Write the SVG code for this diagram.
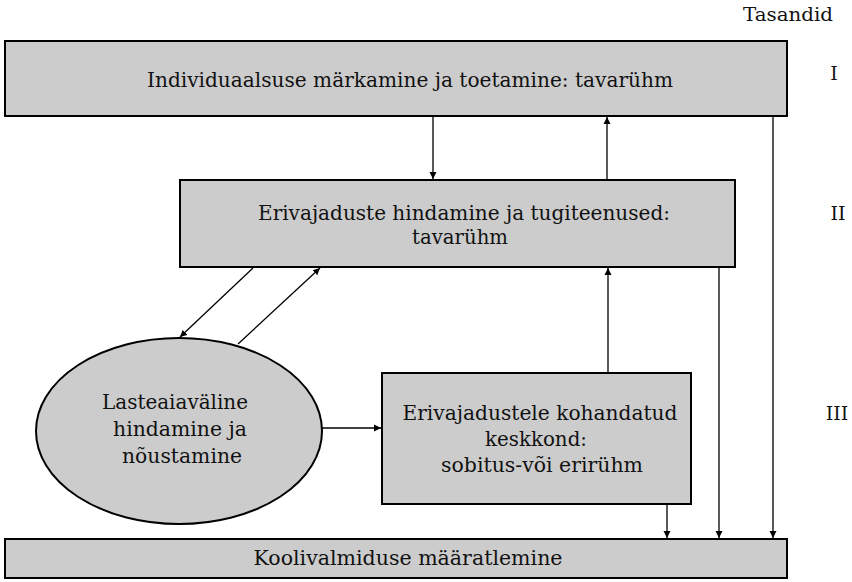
<svg xmlns="http://www.w3.org/2000/svg" width="852" height="582" viewBox="0 0 852 582">
  <defs>
    <marker id="arr" viewBox="0 0 10 10" refX="10" refY="5" markerWidth="7" markerHeight="8" markerUnits="userSpaceOnUse" orient="auto">
      <path d="M0,0 L10,5 L0,10 z" fill="#000"/>
    </marker>
    <style>
      .box { fill: #cccccc; stroke: #000; stroke-width: 2; }
      .lbl { font-family: "DejaVu Serif", "Liberation Serif", serif; font-size: 20px; fill: #111; text-anchor: middle; }
      .lvl { font-family: "DejaVu Serif", "Liberation Serif", serif; font-size: 19px; fill: #111; text-anchor: middle; }
      .con { stroke: #000; stroke-width: 1.3; fill: none; marker-end: url(#arr); }
    </style>
  </defs>
  <rect width="852" height="582" fill="#fff"/>

  <!-- level labels -->
  <g id="levels">
    <text class="lvl" x="788" y="21" textLength="90" lengthAdjust="spacingAndGlyphs">Tasandid</text>
    <text class="lvl" x="834" y="80">I</text>
    <text class="lvl" x="838" y="220">II</text>
    <text class="lvl" x="837" y="420">III</text>
  </g>

  <g id="noticing">
    <rect class="box" x="5" y="41" width="782" height="75"/>
    <text class="lbl" x="410" y="87" textLength="526" lengthAdjust="spacingAndGlyphs">Individuaalsuse märkamine ja toetamine: tavarühm</text>
  </g>

  <g id="assessment">
    <rect class="box" x="180" y="180" width="555" height="87"/>
    <text class="lbl" x="464" y="220" textLength="412" lengthAdjust="spacingAndGlyphs">Erivajaduste hindamine ja tugiteenused:</text>
    <text class="lbl" x="460" y="244" textLength="96" lengthAdjust="spacingAndGlyphs">tavarühm</text>
  </g>

  <g id="external">
    <ellipse class="box" cx="179" cy="431" rx="143" ry="93"/>
    <text class="lbl" x="175" y="409" textLength="146" lengthAdjust="spacingAndGlyphs">Lasteaiaväline</text>
    <text class="lbl" x="180" y="436" textLength="134" lengthAdjust="spacingAndGlyphs">hindamine ja</text>
    <text class="lbl" x="182" y="463" textLength="120" lengthAdjust="spacingAndGlyphs">nõustamine</text>
  </g>

  <g id="adapted">
    <rect class="box" x="382" y="373" width="309" height="131"/>
    <text class="lbl" x="540" y="420" textLength="275" lengthAdjust="spacingAndGlyphs">Erivajadustele kohandatud</text>
    <text class="lbl" x="536" y="446" textLength="102" lengthAdjust="spacingAndGlyphs">keskkond:</text>
    <text class="lbl" x="542" y="472" textLength="202" lengthAdjust="spacingAndGlyphs">sobitus-või erirühm</text>
  </g>

  <g id="readiness">
    <rect class="box" x="5" y="539" width="782" height="39"/>
    <text class="lbl" x="408" y="565" textLength="309" lengthAdjust="spacingAndGlyphs">Koolivalmiduse määratlemine</text>
  </g>

  <g id="connectors">
    <line class="con" x1="433" y1="117" x2="433" y2="179"/>
    <line class="con" x1="607" y1="179" x2="607" y2="117"/>
    <line class="con" x1="773" y1="117" x2="773" y2="538"/>
    <line class="con" x1="719" y1="268" x2="719" y2="538"/>
    <line class="con" x1="667" y1="505" x2="667" y2="538"/>
    <line class="con" x1="608" y1="372" x2="608" y2="268"/>
    <line class="con" x1="253" y1="268" x2="180" y2="337"/>
    <line class="con" x1="238" y1="344" x2="320" y2="268"/>
    <line class="con" x1="322" y1="428" x2="381" y2="428"/>
  </g>
</svg>
